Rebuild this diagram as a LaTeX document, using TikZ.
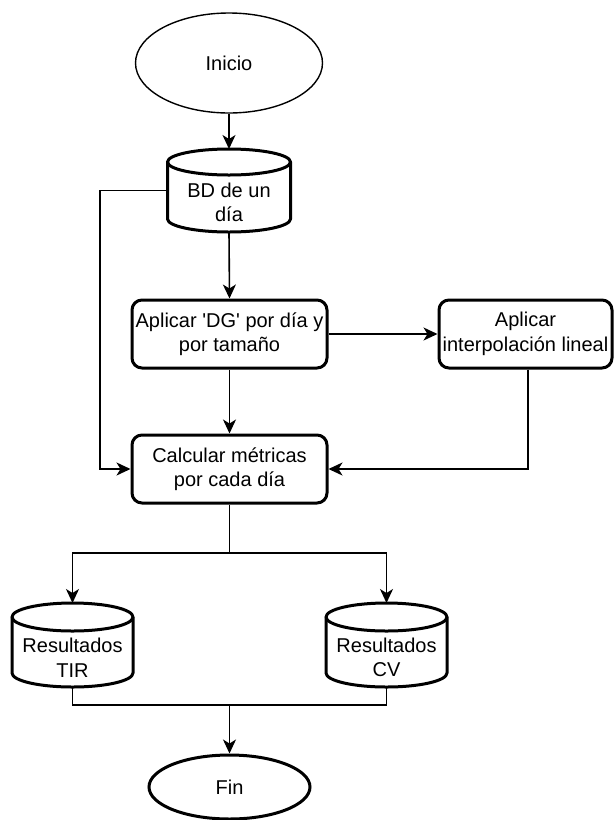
\documentclass[tikz,border=0pt]{standalone}
\usepackage{fontspec}
\setmainfont{Liberation Sans}[Ligatures=TeXOff]
\usetikzlibrary{arrows.meta,shapes.geometric,calc}
\newcommand\dbcylinder[3]{% #1 node, #2 x radius, #3 y radius
  \draw[line width=3pt, line join=round]
    ($(#1.north west)+(0,-#3)$) -- ($(#1.south west)+(0,#3)$)
    arc[start angle=180, end angle=360, x radius=#2, y radius=#3]
    -- ($(#1.north east)+(0,-#3)$)
    arc[start angle=0, end angle=180, x radius=#2, y radius=#3] -- cycle;
  \draw[line width=3pt]
    ($(#1.north west)+(0,-#3)$)
    arc[start angle=180, end angle=360, x radius=#2, y radius=#3];
}
\begin{document}
\begin{tikzpicture}[x=1pt,y=1pt,
  txt/.style={font=\fontsize{20}{24.5}\selectfont, align=center, inner sep=0pt},
  conn/.style={line width=1.6pt, -{Stealth[length=14pt,width=13pt,inset=4pt]}},
  plain/.style={line width=1.6pt},
  procbox/.style={txt, draw, line width=3pt, rounded corners=10pt,
    minimum height=68pt},
  dbshape/.style={rectangle, inner sep=0pt, outer sep=0pt},
  terminal/.style={txt, ellipse, draw}]
\useasboundingbox (0,0) rectangle (614,-820);

\node[terminal, line width=1.4pt, minimum width=187pt, minimum height=100pt] (ini) at (229,-63) {Inicio};

\node[dbshape, minimum width=123pt, minimum height=83pt] (bd) at (229,-190.5) {};
\dbcylinder{bd}{61.5}{13}
\node[txt] (bdt) at ($(bd.center)+(0,-12)$) {BD de un\\día};

\node[procbox, minimum width=195pt] (dg) at (229.5,-334) {Aplicar 'DG' por día y\\por tamaño};
\node[procbox, minimum width=173pt] (interp) at (525.5,-334) {Aplicar\\interpolación lineal};
\node[procbox, minimum width=195pt] (calc) at (229.5,-469) {Calcular métricas\\por cada día};

\node[dbshape, minimum width=121pt, minimum height=84pt] (tir) at (72.5,-645) {};
\dbcylinder{tir}{60.5}{14}
\node[txt] (tirt) at ($(tir.center)+(0,-12.5)$) {Resultados\\TIR};

\node[dbshape, minimum width=121pt, minimum height=84pt] (cv) at (386.5,-645) {};
\dbcylinder{cv}{60.5}{14}
\node[txt] (cvt) at ($(cv.center)+(0,-12.5)$) {Resultados\\CV};

\node[terminal, line width=3pt, minimum width=161pt, minimum height=64pt] (fin) at (229.5,-787) {Fin};

\coordinate (lb) at (100,-190.5);
\coordinate (split) at (229.5,-553);
\coordinate (merge) at (229.5,-705);

\draw[conn] (ini.south) -- (bd.north);
\draw[conn] (bd.west) -- (lb) |- (calc.west);
\draw[conn] (bd.south) -- (dg.north);
\draw[conn] (dg.east) -- (interp.west);
\draw[conn] (dg.south) -- (calc.north);
\draw[conn] ([xshift=2.5pt]interp.south) |- (calc.east);
\draw[plain] (calc.south) -- (split);
\draw[conn] (split) -| (tir.north);
\draw[conn] (split) -| (cv.north);
\draw[plain] (tir.south) |- (merge);
\draw[plain] (cv.south) |- (merge);
\draw[conn] (merge) -- (fin.north);
\end{tikzpicture}
\end{document}
